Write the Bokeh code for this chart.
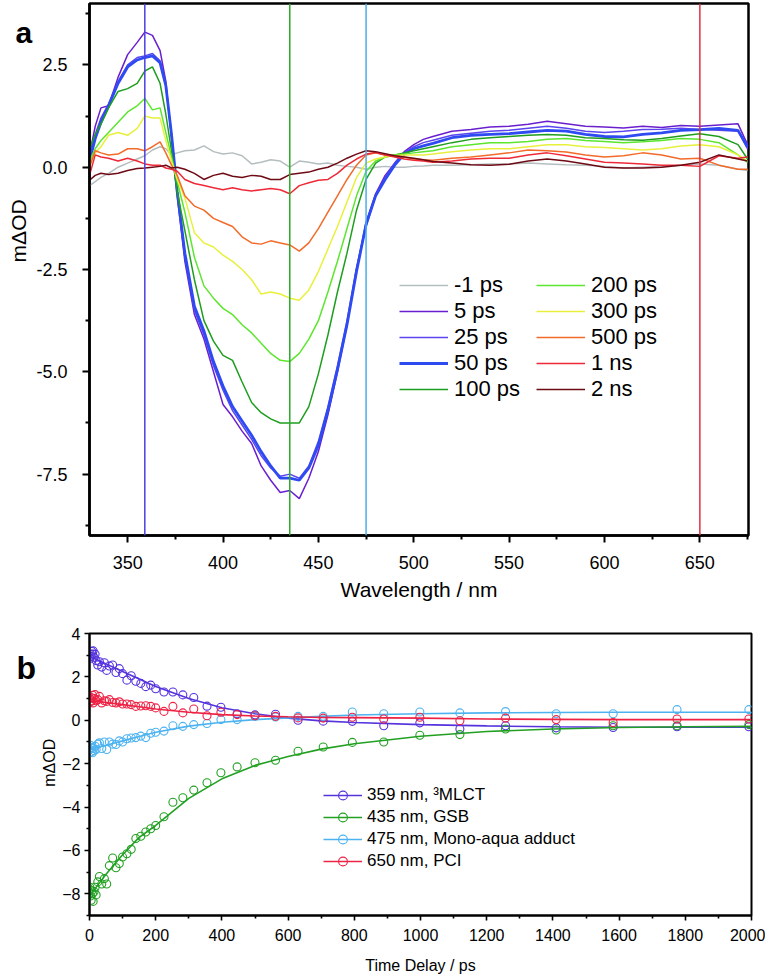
from bokeh.plotting import figure
from bokeh.models import Range1d, FixedTicker, Legend, LegendItem, Span, NumeralTickFormatter
from bokeh.layouts import column, row
from bokeh.core.properties import value
from bokeh.embed import file_html
from bokeh.resources import INLINE
import math

FONT = "Liberation Sans"

# ---------------- Panel a: transient spectra ----------------
wavelength = [330, 333, 336, 340, 345, 350, 355, 359, 363, 367,
              370, 373, 376, 380, 385, 390, 395, 400, 405, 410,
              415, 420, 425, 430, 435, 440, 445, 450, 455, 460,
              465, 470, 475, 480, 485, 490, 495, 500, 505, 510,
              520, 530, 540, 550, 560, 570, 580, 590, 600, 610,
              620, 630, 640, 650, 660, 670, 675]

spec_m1ps = [-0.45, -0.35, -0.25, -0.15, 0.0, 0.1, 0.2, 0.28, 0.42, 0.5,
             0.45, 0.3, 0.35, 0.4, 0.42, 0.52, 0.38, 0.32, 0.35, 0.28,
             0.08, 0.12, 0.18, 0.15, 0.0, 0.15, 0.12, 0.08, 0.1, 0.05,
             0.02, 0.0, -0.05, 0.0, 0.02, 0.0, 0.0, 0.02, 0.03, 0.05,
             0.05, 0.06, 0.08, 0.08, 0.1, 0.08, 0.06, 0.05, 0.02, -0.02,
             0.0, 0.02, 0.05, 0.08, 0.05, -0.05, -0.08]
spec_5ps = [0.3, 1.0, 1.45, 1.5, 2.2, 2.75, 3.05, 3.3, 3.22, 2.85,
            2.1, 0.7, -0.7, -2.3, -3.6, -4.2, -5.0, -5.8, -6.1, -6.45,
            -6.75, -7.3, -7.65, -7.95, -7.9, -8.1, -7.6, -6.95, -6.05, -5.0,
            -3.85, -2.5, -1.35, -0.65, -0.2, 0.1, 0.38, 0.55, 0.68, 0.75,
            0.88, 0.92, 0.98, 1.0, 1.05, 1.12, 1.06, 1.0, 0.98, 0.96,
            1.0, 0.97, 1.02, 1.0, 1.03, 1.06, 0.55]
spec_25ps = [0.25, 0.8, 1.2, 1.55, 2.1, 2.5, 2.68, 2.72, 2.78, 2.6,
             2.0, 0.8, -0.6, -2.2, -3.5, -4.1, -4.85, -5.45, -5.95, -6.3,
             -6.65, -7.05, -7.35, -7.55, -7.5, -7.6, -7.3, -6.7, -5.85, -4.85,
             -3.75, -2.45, -1.45, -0.7, -0.25, 0.1, 0.35, 0.5, 0.6, 0.66,
             0.78, 0.83, 0.88, 0.9, 0.95, 1.0, 0.95, 0.88, 0.85, 0.88,
             0.92, 0.93, 0.95, 0.92, 0.9, 0.88, 0.45]
spec_50ps = [0.15, 0.7, 1.1, 1.5, 2.05, 2.45, 2.62, 2.68, 2.72, 2.55,
             2.0, 0.8, -0.6, -2.1, -3.4, -4.0, -4.75, -5.35, -5.85, -6.2,
             -6.55, -6.95, -7.3, -7.6, -7.6, -7.65, -7.35, -6.8, -5.95, -4.95,
             -3.85, -2.55, -1.4, -0.7, -0.3, 0.05, 0.32, 0.45, 0.52, 0.58,
             0.72, 0.78, 0.8, 0.82, 0.86, 0.9, 0.88, 0.8, 0.75, 0.74,
             0.8, 0.84, 0.9, 0.92, 0.95, 0.9, 0.5]
spec_100ps = [0.45, 0.8, 1.05, 1.45, 1.85, 1.92, 2.05, 2.35, 2.45, 2.05,
              1.3, 0.4, -0.6, -1.55, -2.75, -3.75, -4.25, -4.6, -4.72, -5.25,
              -5.75, -6.0, -6.15, -6.25, -6.25, -6.25, -5.85, -5.05, -4.1, -3.05,
              -2.1, -1.05, -0.3, 0.1, 0.25, 0.3, 0.35, 0.4, 0.45, 0.5,
              0.6, 0.68, 0.72, 0.75, 0.78, 0.8, 0.78, 0.72, 0.7, 0.67,
              0.66, 0.7, 0.76, 0.82, 0.75, 0.55, 0.2]
spec_200ps = [0.15, 0.45, 0.65, 0.85, 1.1, 1.35, 1.5, 1.68, 1.4, 1.45,
              0.85, 0.25, -0.35, -1.1, -2.2, -2.9, -3.2, -3.45, -3.6, -3.85,
              -4.05, -4.3, -4.55, -4.72, -4.75, -4.55, -4.2, -3.75, -3.05, -2.3,
              -1.5, -0.7, -0.1, 0.15, 0.25, 0.3, 0.32, 0.35, 0.38, 0.4,
              0.5, 0.55, 0.6, 0.6, 0.63, 0.68, 0.7, 0.65, 0.63, 0.6,
              0.62, 0.65, 0.7, 0.68, 0.6, 0.3, 0.12]
spec_300ps = [0.05, 0.35, 0.5, 0.78, 0.85, 0.78, 0.95, 1.25, 1.2, 1.2,
              0.65, 0.15, -0.3, -0.75, -1.6, -1.85, -1.95, -2.15, -2.3, -2.5,
              -2.75, -3.1, -3.05, -3.1, -3.2, -3.25, -3.0, -2.55, -2.0, -1.45,
              -0.85, -0.25, 0.1, 0.2, 0.25, 0.28, 0.3, 0.3, 0.3, 0.32,
              0.38, 0.42, 0.45, 0.45, 0.5, 0.55, 0.55, 0.5, 0.48, 0.45,
              0.42, 0.45, 0.52, 0.55, 0.5, 0.3, 0.15]
spec_500ps = [0.0, 0.4, 0.35, 0.3, 0.32, 0.45, 0.45, 0.4, 0.5, 0.62,
              0.35, 0.05, -0.2, -0.7, -0.95, -1.05, -1.25, -1.35, -1.45, -1.7,
              -1.85, -1.88, -1.8, -1.85, -1.9, -2.05, -1.85, -1.5, -1.1, -0.7,
              -0.3, 0.05, 0.3, 0.35, 0.3, 0.28, 0.25, 0.2, 0.18, 0.17,
              0.22, 0.25, 0.3, 0.35, 0.42, 0.4, 0.37, 0.3, 0.25, 0.28,
              0.35, 0.3, 0.2, 0.22, 0.05, -0.05, -0.05]
spec_1ns = [-0.2, 0.3, 0.25, 0.22, 0.15, 0.22, 0.15, 0.08, 0.05, 0.05,
            -0.02, -0.05, -0.1, -0.3, -0.4, -0.45, -0.5, -0.55, -0.5, -0.55,
            -0.58, -0.55, -0.52, -0.55, -0.65, -0.45, -0.38, -0.32, -0.3, -0.15,
            0.05, 0.2, 0.32, 0.36, 0.3, 0.25, 0.2, 0.17, 0.15, 0.12,
            0.15, 0.2, 0.22, 0.22, 0.3, 0.35, 0.28, 0.2, 0.12, 0.1,
            0.08, 0.05, 0.05, 0.02, 0.28, 0.22, 0.25]
spec_2ns = [-0.32, -0.2, -0.15, -0.18, -0.15, -0.08, -0.03, -0.02, 0.0, 0.02,
            0.05, -0.02, 0.0, -0.05, -0.15, -0.3, -0.2, -0.15, -0.22, -0.25,
            -0.2, -0.22, -0.3, -0.3, -0.18, -0.15, -0.12, -0.05, 0.0, 0.1,
            0.22, 0.32, 0.4, 0.38, 0.33, 0.28, 0.25, 0.22, 0.18, 0.14,
            0.1, 0.06, 0.05, 0.07, 0.15, 0.2, 0.15, 0.08, 0.0, -0.02,
            -0.02, 0.0, 0.05, 0.12, 0.3, 0.2, 0.15]

spectra = [spec_m1ps, spec_5ps, spec_25ps, spec_50ps, spec_100ps,
           spec_200ps, spec_300ps, spec_500ps, spec_1ns, spec_2ns]
delay_labels = ["-1 ps", "5 ps", "25 ps", "50 ps", "100 ps",
                "200 ps", "300 ps", "500 ps", "1 ns", "2 ns"]
delay_colors = ["#B5BEBF", "#6A1FCF", "#5B45F0", "#2E4BF2", "#1E9E1E",
                "#5CE62E", "#E8F03C", "#F26B2A", "#EE2A38", "#6E0A14"]
delay_widths = [1.5, 1.5, 1.5, 2.8, 1.5, 1.5, 1.5, 1.5, 1.5, 1.5]

probe_wavelengths = [359, 435, 475, 650]
probe_colors = ["#4B3FE0", "#2AAA2A", "#4AB0E8", "#E0303F"]

# ---------------- Panel b: kinetics ----------------
delay_t = [1, 3, 5, 7, 9, 11, 14, 17, 20, 25,
           30, 37, 45, 52, 60, 70, 80, 90, 100, 113,
           126, 140, 155, 170, 185, 200, 225, 252, 282, 315,
           355, 397, 446, 500, 562, 630, 706, 794, 889, 998,
           1119, 1257, 1410, 1582, 1775, 1992]
kin_359 = [2.85, 3.05, 2.95, 3.17, 3.05, 3.2, 2.9, 3.05, 2.75, 2.55,
           2.7, 2.45, 2.65, 2.3, 2.5, 2.55, 2.2, 2.38, 2.15, 1.85,
           2.05, 1.8, 1.7, 1.55, 1.62, 1.45, 1.3, 1.3, 1.17, 1.05,
           0.65, 0.6, 0.3, 0.25, 0.28, 0.0, -0.04, -0.05, -0.25, -0.12,
           -0.4, -0.25, -0.35, -0.33, -0.3, -0.3]
kin_435 = [-7.7, -8.1, -8.3, -7.85, -8.0, -8.35, -7.9, -7.7, -8.05, -7.45,
           -7.2, -7.55, -7.3, -7.55, -6.7, -6.35, -6.8, -6.6, -6.3, -6.15,
           -5.95, -5.45, -5.35, -5.15, -5.0, -4.85, -4.45, -3.78, -3.57, -3.22,
           -2.88, -2.42, -2.15, -1.96, -1.84, -1.43, -1.23, -1.02, -1.0, -0.69,
           -0.66, -0.4, -0.45, -0.25, -0.25, -0.2]
kin_475 = [-1.35, -1.15, -1.45, -1.25, -1.5, -1.3, -1.4, -1.2, -1.35, -1.1,
           -1.04, -1.3, -1.0, -1.35, -1.0, -1.1, -1.12, -0.95, -1.0, -0.85,
           -0.82, -0.8, -0.73, -0.8, -0.6, -0.55, -0.5, -0.25, -0.28, -0.2,
           -0.15, 0.03, 0.03, 0.18, 0.15, 0.18, 0.18, 0.38, 0.3, 0.38,
           0.34, 0.4, 0.3, 0.3, 0.49, 0.49]
kin_650 = [1.0, 0.85, 1.05, 0.9, 1.15, 0.8, 1.0, 1.18, 0.9, 0.95,
           1.1, 0.8, 0.9, 0.87, 0.95, 0.82, 0.8, 0.85, 0.75, 0.75,
           0.72, 0.64, 0.66, 0.67, 0.64, 0.57, 0.41, 0.64, 0.34, 0.52,
           0.21, 0.37, 0.26, 0.21, 0.18, 0.11, 0.1, 0.14, 0.06, 0.14,
           -0.02, 0.1, 0.03, -0.1, 0.06, 0.06]

fit_t = [0, 25, 50, 100, 150, 200, 300, 400, 500, 600, 700, 800, 1000, 1200, 1400, 1600, 1800, 2000]
fit_359 = [2.95, 2.78, 2.6, 2.25, 1.9, 1.56, 1.0, 0.58, 0.3, 0.1, -0.03, -0.1, -0.2, -0.26, -0.3, -0.32, -0.32, -0.32]
fit_435 = [-8.1, -7.6, -7.1, -6.2, -5.4, -4.85, -3.6, -2.7, -2.08, -1.67, -1.33, -1.08, -0.74, -0.52, -0.4, -0.33, -0.3, -0.28]
fit_475 = [-1.35, -1.25, -1.15, -0.95, -0.75, -0.55, -0.27, -0.09, 0.03, 0.11, 0.18, 0.24, 0.3, 0.34, 0.36, 0.37, 0.37, 0.37]
fit_650 = [0.9, 0.86, 0.82, 0.72, 0.62, 0.52, 0.37, 0.26, 0.2, 0.16, 0.13, 0.12, 0.1, 0.06, 0.04, 0.03, 0.03, 0.03]

kin_series = [kin_359, kin_435, kin_475, kin_650]
fit_series = [fit_359, fit_435, fit_475, fit_650]
kin_labels = ["359 nm, \u00b3MLCT", "435 nm, GSB", "475 nm, Mono-aqua adduct", "650 nm, PCI"]
kin_colors = ["#5533DD", "#22A022", "#4DB3F0", "#EE2244"]

panel_letters = ["a", "b"]
y_title = "m\u0394OD"


def style_axes(p, tick_font, label_font, lw, tick_out, minor_out, lab_standoff_x, lab_standoff_y,
               ax_standoff_x, ax_standoff_y):
    p.grid.visible = False
    p.outline_line_color = "black"
    p.outline_line_width = lw
    p.outline_line_alpha = 1
    for ax in (p.xaxis[0], p.yaxis[0]):
        ax.axis_line_width = lw
        ax.axis_line_color = "black"
        ax.major_tick_line_width = lw * 0.8
        ax.minor_tick_line_width = lw * 0.8
        ax.major_tick_in = 0
        ax.major_tick_out = tick_out
        ax.minor_tick_in = 0
        ax.minor_tick_out = minor_out
        ax.major_label_text_font = FONT
        ax.major_label_text_font_size = tick_font
        ax.major_label_text_color = "black"
        ax.axis_label_text_font = FONT
        ax.axis_label_text_font_size = label_font
        ax.axis_label_text_font_style = "normal"
        ax.axis_label_text_color = "black"
    p.xaxis[0].major_label_standoff = lab_standoff_x
    p.yaxis[0].major_label_standoff = lab_standoff_y
    p.xaxis[0].axis_label_standoff = ax_standoff_x
    p.yaxis[0].axis_label_standoff = ax_standoff_y


def make_legend(items, loc, font, gw, gh, standoff):
    return Legend(items=items, location=loc, orientation="vertical",
                  border_line_color=None, background_fill_alpha=0, padding=0, margin=0,
                  spacing=0, glyph_width=gw, glyph_height=gh, label_height=gh,
                  label_standoff=standoff, label_text_font=FONT, label_text_font_size=font,
                  label_text_color="black", label_text_baseline="middle")


def side_strip(width, height):
    s = figure(width=width, height=height, x_range=Range1d(0, width), y_range=Range1d(0, height),
               output_backend="svg", toolbar_location=None,
               x_axis_location=None, y_axis_location=None,
               min_border=0, min_border_left=0, min_border_right=0,
               min_border_top=0, min_border_bottom=0)
    s.grid.visible = False
    s.outline_line_color = None
    s.background_fill_color = None
    s.border_fill_color = None
    return s


H_A = 606
H_B = 371
STRIP_A = 33
STRIP_B = 58

# ---------- strip for panel a (letter + y title) ----------
sa = side_strip(STRIP_A, H_A)
sa.text(x=[15], y=[H_A - 33], text=[panel_letters[0]], text_font=value(FONT),
        text_font_style="bold", text_font_size="30px", text_baseline="alphabetic",
        text_align="left", text_color="black")
sa.text(x=[18], y=[H_A - 259], text=[y_title], text_font=value(FONT),
        text_font_size="21px", text_baseline="middle", text_align="center",
        angle=math.pi / 2, text_color="black")

# ---------- figure a ----------
pa = figure(width=765 - STRIP_A, height=H_A, x_range=Range1d(330, 675.5), y_range=Range1d(-9, 4),
            output_backend="svg", toolbar_location=None,
            min_border_left=87 - STRIP_A, min_border_right=17, min_border_top=3, min_border_bottom=71,
            x_axis_label="Wavelength / nm")
style_axes(pa, "18px", "21px", 2.5, 7, 4, 13, 15, 6, 3)
pa.xaxis[0].ticker = FixedTicker(ticks=[350, 400, 450, 500, 550, 600, 650],
                                 minor_ticks=[375, 425, 475, 525, 575, 625, 675])
pa.yaxis[0].ticker = FixedTicker(ticks=[-7.5, -5.0, -2.5, 0.0, 2.5],
                                 minor_ticks=[-8.75, -6.25, -3.75, -1.25, 1.25, 3.75])
pa.yaxis[0].formatter = NumeralTickFormatter(format="0.0")
pa.xaxis[0].formatter = NumeralTickFormatter(format="0")

renderers_a = []
for ys, lab, col, w in zip(spectra, delay_labels, delay_colors, delay_widths):
    renderers_a.append(pa.line(wavelength, ys, line_color=col, line_width=w))

for wl, col in zip(probe_wavelengths, probe_colors):
    pa.add_layout(Span(location=wl, dimension="height", line_color=col, line_width=1.5))

items1 = [LegendItem(label=delay_labels[i], renderers=[renderers_a[i]]) for i in range(5)]
items2 = [LegendItem(label=delay_labels[i], renderers=[renderers_a[i]]) for i in range(5, 10)]
pa.add_layout(make_legend(items1, (310, 133), "22px", 49, 26, 6))
pa.add_layout(make_legend(items2, (447, 133), "22px", 49, 26, 6))

# ---------- strip for panel b (letter + y title) ----------
sb = side_strip(STRIP_B, H_B)
sb.text(x=[16], y=[H_B - 46], text=[panel_letters[1]], text_font=value(FONT),
        text_font_style="bold", text_font_size="32px", text_baseline="alphabetic",
        text_align="left", text_color="black")
sb.text(x=[49], y=[H_B - 170], text=[y_title], text_font=value(FONT),
        text_font_size="16px", text_baseline="middle", text_align="center",
        angle=math.pi / 2, text_color="black")

# ---------- figure b ----------
pb = figure(width=765 - STRIP_B, height=H_B, x_range=Range1d(0, 2000), y_range=Range1d(-9, 4),
            output_backend="svg", toolbar_location=None,
            min_border_left=89 - STRIP_B, min_border_right=14, min_border_top=27, min_border_bottom=62,
            x_axis_label="Time Delay / ps")
style_axes(pb, "16px", "16px", 2, 5, 3, 8, 4, 13, 4)
pb.xaxis[0].ticker = FixedTicker(ticks=list(range(0, 2001, 200)),
                                 minor_ticks=list(range(100, 2000, 200)))
pb.yaxis[0].ticker = FixedTicker(ticks=[-8, -6, -4, -2, 0, 2, 4],
                                 minor_ticks=[-9, -7, -5, -3, -1, 1, 3])

items_b = []
for ys, fs, lab, col in zip(kin_series, fit_series, kin_labels, kin_colors):
    rl = pb.line(fit_t, fs, line_color=col, line_width=1.6)
    rs = pb.scatter(delay_t, ys, marker="circle", size=8, fill_color=None,
                    line_color=col, line_width=1.1)
    items_b.append(LegendItem(label=lab, renderers=[rl, rs]))
pb.add_layout(make_legend(items_b, (234, 43), "17px", 39, 22, 5))

layout = column(row(sa, pa, spacing=0), row(sb, pb, spacing=0), spacing=0)
open("out.html", "w").write(file_html(layout, INLINE))
